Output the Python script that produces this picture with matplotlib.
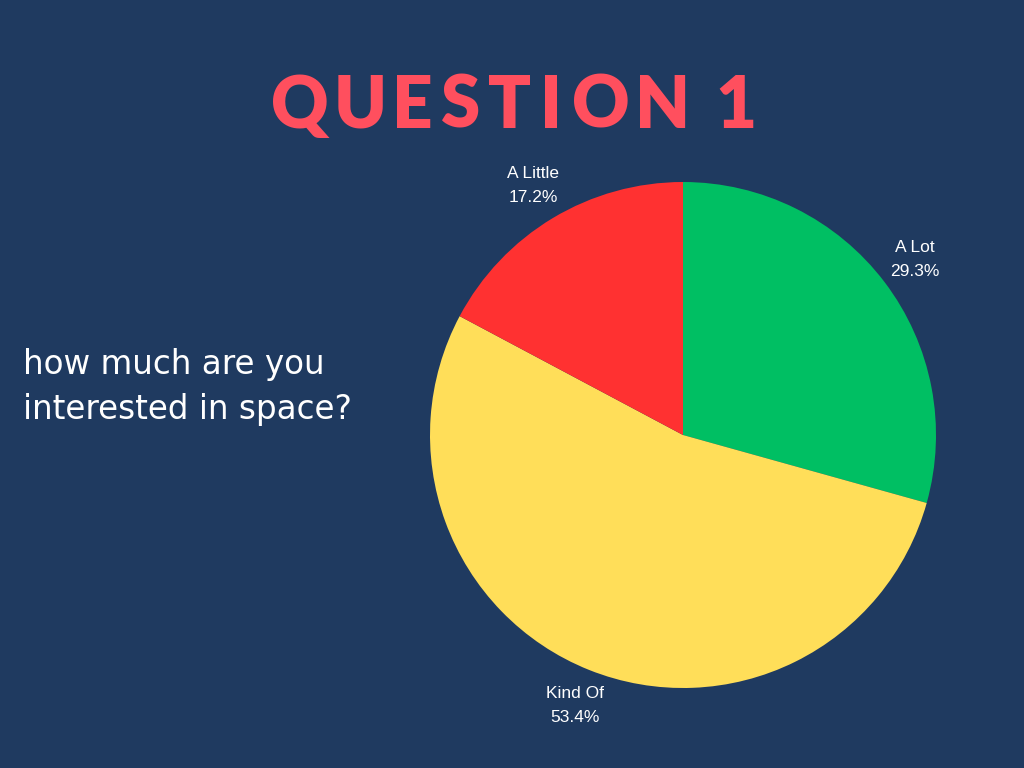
import matplotlib
matplotlib.use("Agg")
import matplotlib.pyplot as plt
import numpy as np

categories = ["A Lot", "Kind Of", "A Little"]
values = [29.3, 53.4, 17.2]
colors = ["#00BF63", "#FFDE59", "#FF3131"]

title_text = "QUESTION 1"
subtitle_lines = ["how much are you", "interested in space?"]

BG = "#1F3A60"
W, H = 1024, 768
fig = plt.figure(figsize=(W / 100, H / 100), dpi=100, facecolor=BG)

# Pie axes: centre (683, 435) px, radius 253 px
cx, cy, r = 683, 435, 253
ax = fig.add_axes([(cx - r) / W, (H - cy - r) / H, 2 * r / W, 2 * r / H])
ax.set_facecolor(BG)
labels = [f"{c}\n{v:.1f}%" for c, v in zip(categories, values)]
wedges, texts = ax.pie(values, colors=colors, startangle=90, counterclock=False,
                       labels=labels, labeldistance=1.15,
                       textprops=dict(color="white", fontsize=12.5,
                                      family="Liberation Sans", linespacing=1.75),
                       wedgeprops=dict(linewidth=0))
for t in texts:
    t.set_ha("center")
    t.set_va("center")
ax.set_xlim(-1, 1)
ax.set_ylim(-1, 1)
ax.set_aspect("equal")
ax.axis("off")

# Title with letter spacing
letter_centers = [300, 360, 412, 461, 510, 551, 601, 663, 736]
chars = [ch for ch in title_text if ch != " "]
for ch, x in zip(chars, letter_centers):
    fig.text(x / W, 1 - 128 / H, ch, ha="center", va="baseline",
             fontsize=51, fontweight="heavy", family="Lato", color="#FF4F5E")

# Subtitle
for i, line in enumerate(subtitle_lines):
    fig.text(23 / W, 1 - (374 + 45 * i) / H, line, ha="left", va="baseline",
             fontsize=23.5, family="DejaVu Sans", color="white")

fig.savefig("out.png", dpi=100, facecolor=BG)
